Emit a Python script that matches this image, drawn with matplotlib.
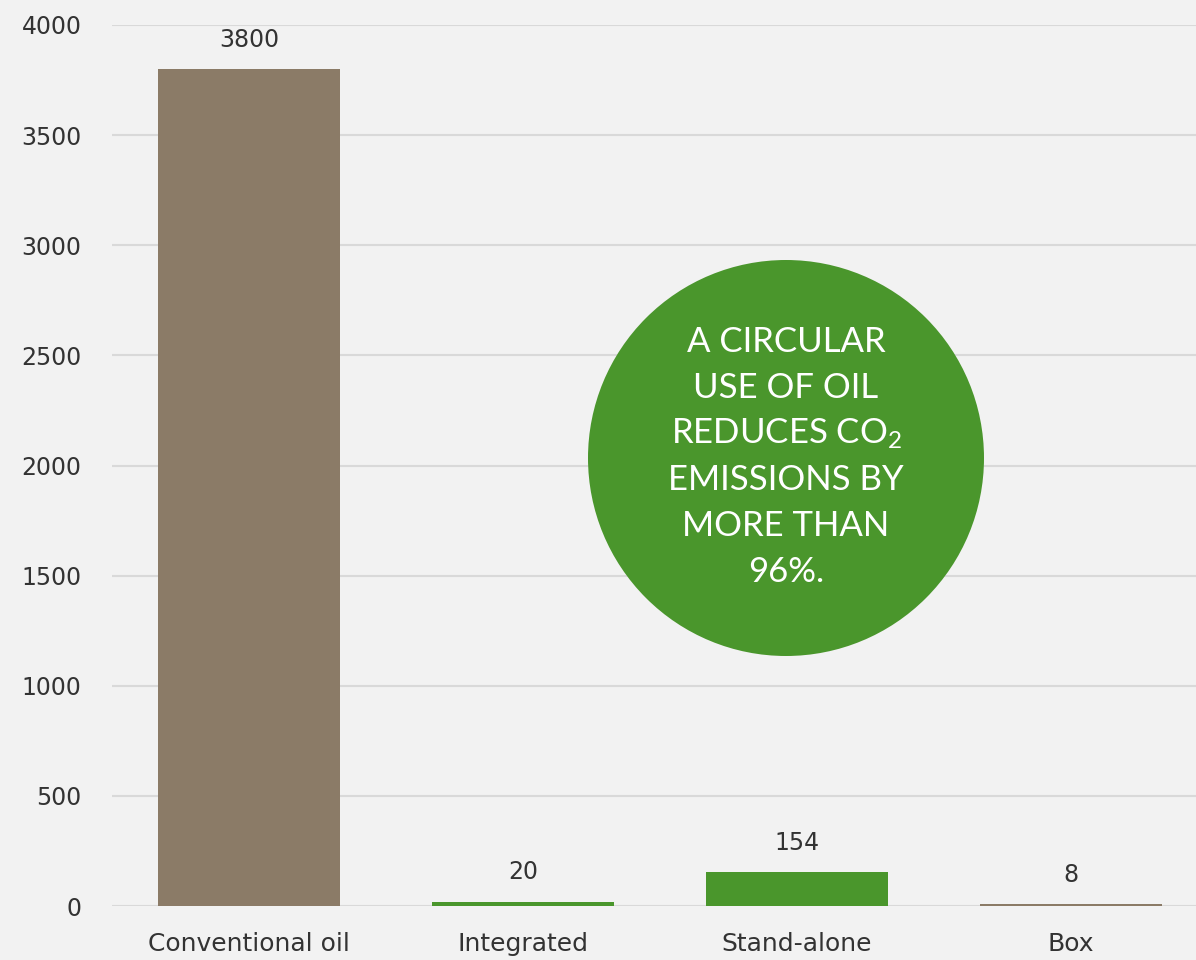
import matplotlib
matplotlib.use("Agg")
import matplotlib.pyplot as plt
from matplotlib.patches import Ellipse

categories = ["Conventional oil", "Integrated", "Stand-alone", "Box"]
values = [3800, 20, 154, 8]
bar_colors = ["#8B7B67", "#4A962C", "#4A962C", "#8B7B67"]
yticks = [0, 500, 1000, 1500, 2000, 2500, 3000, 3500, 4000]
callout_lines = ["A CIRCULAR", "USE OF OIL", "REDUCES CO$_2$", "EMISSIONS BY", "MORE THAN", "96%."]

plt.rcParams["mathtext.fontset"] = "custom"
plt.rcParams["mathtext.rm"] = "Lato"
plt.rcParams["mathtext.it"] = "Lato"

W, H = 1196, 960
fig = plt.figure(figsize=(W / 100, H / 100), dpi=100, facecolor="#F2F2F2")
ax = fig.add_axes([112 / W, (H - 906) / H, (W - 112) / W, (906 - 25) / H])
ax.set_facecolor("#F2F2F2")

lab_font = dict(fontsize=17, color="#333333", family="DejaVu Sans")

x = list(range(len(categories)))
ax.bar(x, values, width=0.665, color=bar_colors, zorder=3)
ax.set_xlim(-0.5, 3.5 - 12 / 274)
ax.set_ylim(0, 4000)
ax.set_yticks(yticks)
ax.set_yticklabels([str(t) for t in yticks], **lab_font)
ax.set_xticks(x)
ax.set_xticklabels(categories, fontsize=18, color="#333333", family="DejaVu Sans")
ax.tick_params(axis="both", length=0)
ax.tick_params(axis="y", pad=22)
ax.tick_params(axis="x", pad=19)
ax.grid(axis="y", color="#D9D9D9", linewidth=1.5, zorder=0)
for s in ax.spines.values():
    s.set_visible(False)

for xi, v in zip(x, values):
    ax.annotate(str(v), (xi, v), xytext=(0, 21), textcoords="offset points",
                ha="center", va="center", **lab_font)

cx, cy, r = 786, 458, 198
circ = Ellipse((cx / W, 1 - cy / H), 2 * r / W, 2 * r / H, transform=fig.transFigure,
               facecolor="#4A962C", edgecolor="none", zorder=5)
fig.add_artist(circ)
line_h = 46
top = 342
for i, line in enumerate(callout_lines):
    fig.text(cx / W, 1 - (top + i * line_h) / H, line, ha="center", va="center",
             fontsize=25, color="white", family="Lato", zorder=6)

fig.savefig("out.png", dpi=100, facecolor=fig.get_facecolor())
